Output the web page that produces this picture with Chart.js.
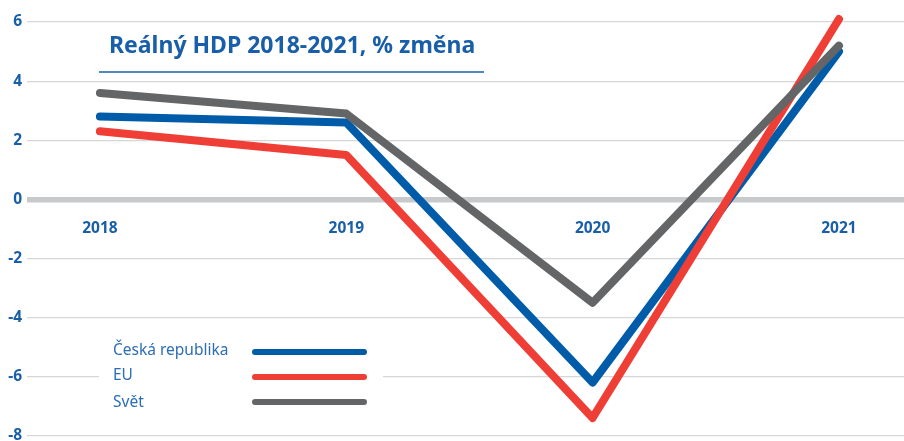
<!DOCTYPE html>
<html lang="cs">
<head>
  <meta charset="UTF-8" />
  <title>Reálný HDP 2018-2021</title>
  <style>
    * {
      margin: 0;
      padding: 0;
    }

    body {
      background: #ffffff;
    }

    .chartFrame {
      width: 904px;
      height: 441px;
      overflow: hidden;
    }

    /* slightly taller than the frame so the -8 label is cut like in the print */
    .chartBox {
      width: 904px;
      height: 450px;
      position: relative;
    }
  </style>
</head>
<body>
  <div class="chartFrame">
    <div class="chartBox">
      <canvas id="myChart"></canvas>
    </div>
  </div>
  <script src="https://cdn.jsdelivr.net/npm/chart.js@4.4.1/dist/chart.umd.min.js"></script>
  <script>
    const titleText = "Reálný HDP 2018-2021, % změna";
    const years = [2018, 2019, 2020, 2021];
    const yTicks = [-8, -6, -4, -2, 0, 2, 4, 6];

    const seriesNames = ["Česká republika", "EU", "Svět"];
    const czValues = [2.8, 2.6, -6.2, 5.0];
    const euValues = [2.3, 1.5, -7.4, 6.1];
    const worldValues = [3.6, 2.9, -3.5, 5.2];

    const colors = ["#005ca8", "#ef3e36", "#646567"];
    const blueText = "#195ea8";

    function points(values) {
      return years.map((yr, i) => ({ x: yr, y: values[i] }));
    }

    const data = {
      datasets: [czValues, euValues, worldValues].map((vals, i) => ({
        label: seriesNames[i],
        data: points(vals),
        borderColor: colors[i],
        borderWidth: 8,
        borderCapStyle: "round",
        borderJoinStyle: "round",
        pointRadius: 0,
        tension: 0,
        clip: false,
        order: 2 - i
      }))
    };

    // title + underline and the legend box at bottom left
    const overlay = {
      id: "overlay",
      afterDraw(chart) {
        const ctx = chart.ctx;
        ctx.save();

        ctx.fillStyle = blueText;
        ctx.font = "bold 23px 'Noto Sans', sans-serif";
        ctx.textBaseline = "middle";
        ctx.textAlign = "left";
        ctx.fillText(titleText, 109, 46);
        ctx.strokeStyle = blueText;
        ctx.lineWidth = 1.3;
        ctx.beginPath();
        ctx.moveTo(99, 72);
        ctx.lineTo(484, 72);
        ctx.stroke();

        ctx.fillStyle = "#ffffff";
        ctx.fillRect(99, 334, 284, 84);

        const rows = [352, 377, 402];
        const textRows = [351, 376, 403];
        chart.data.datasets.forEach((ds, i) => {
          ctx.fillStyle = "#2d6db3";
          ctx.font = "15.5px 'Noto Sans', sans-serif";
          ctx.fillText(ds.label, 113, textRows[i]);
          ctx.strokeStyle = ds.borderColor;
          ctx.lineWidth = 6;
          ctx.lineCap = "round";
          ctx.beginPath();
          ctx.moveTo(255, rows[i]);
          ctx.lineTo(364, rows[i]);
          ctx.stroke();
        });
        ctx.restore();
      }
    };

    const tickFont = { family: "'Noto Sans', sans-serif", size: 15.5, weight: "bold" };

    const options = {
      responsive: true,
      maintainAspectRatio: false,
      animation: false,
      layout: {
        padding: { top: 22, bottom: 14, left: 0, right: 0 }
      },
      scales: {
        x: {
          type: "linear",
          min: 2017.704,
          max: 2021.264,
          position: { y: 0 },
          afterFit: (scale) => {
            scale.height = 0;
          },
          afterBuildTicks: (scale) => {
            scale.ticks = years.map((v) => ({ value: v }));
          },
          grid: { display: false, drawTicks: false },
          border: { display: false },
          ticks: {
            padding: 20,
            color: blueText,
            font: tickFont,
            callback: (v) => String(v),
            maxRotation: 0
          }
        },
        y: {
          min: -8,
          max: 6,
          afterFit: (scale) => {
            scale.width = 27;
          },
          afterBuildTicks: (scale) => {
            scale.ticks = yTicks.map((v) => ({ value: v }));
          },
          grid: {
            drawTicks: false,
            color: (c) => (c.tick && c.tick.value === 0 ? "#c8c9cb" : "#d6d6d6"),
            lineWidth: (c) => (c.tick && c.tick.value === 0 ? 5.5 : 1.2)
          },
          border: { display: false },
          ticks: {
            padding: 5,
            color: blueText,
            font: tickFont
          }
        }
      },
      plugins: {
        legend: { display: false },
        tooltip: { enabled: false }
      }
    };

    const config = {
      type: "line",
      data: data,
      options: options,
      plugins: [overlay]
    };

    const ctx = document.getElementById("myChart").getContext("2d");
    const myChart = new Chart(ctx, config);
  </script>
</body>
</html>
